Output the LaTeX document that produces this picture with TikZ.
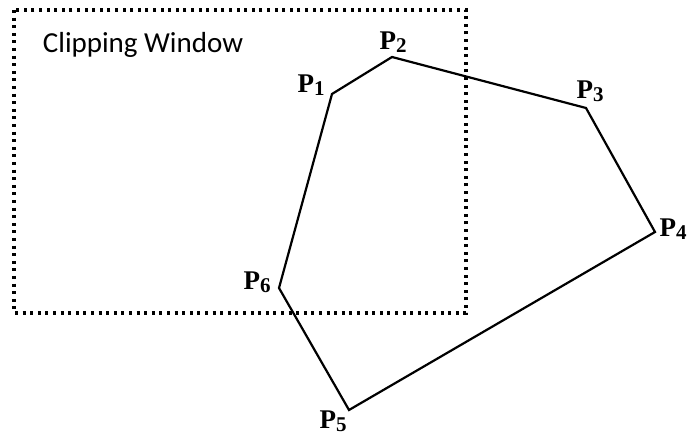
\documentclass[tikz,border=0pt]{standalone}
\usepackage{fontspec}
\setmainfont{Liberation Serif}
\newfontfamily\winfont{Carlito}
\newcommand{\vname}[1]{P\raisebox{-1.6pt}{\fontsize{10.5}{12}\selectfont #1}}

\begin{document}
\begin{tikzpicture}[x=0.5pt, y=-0.5pt,
    edge/.style={line width=1.1pt, line join=miter},
    window/.style={line width=1.6pt, dash pattern=on 1.5pt off 2.3pt},
    vlabel/.style={inner sep=0pt, font=\fontsize{13.5}{15}\selectfont\bfseries}]
    \useasboundingbox (0,0) rectangle (690,437);

    % clipping window
    \coordinate (wtl) at (14,10);
    \coordinate (wbr) at (466,313);
    \draw[window] (wtl) rectangle (wbr);
    \node[inner sep=0pt, font=\winfont\fontsize{14.5}{17}\selectfont] (wintext) at (143,45) {Clipping Window};

    % polygon vertices
    \coordinate (p1) at (332,94);
    \coordinate (p2) at (392,57);
    \coordinate (p3) at (586,108);
    \coordinate (p4) at (655,232);
    \coordinate (p5) at (349,410);
    \coordinate (p6) at (279,288);
    \draw[edge] (p1) -- (p2) -- (p3) -- (p4) -- (p5) -- (p6) -- cycle;

    % vertex labels
    \node[vlabel] (l1) at (311,85) {\vname{1}};
    \node[vlabel] (l2) at (393,42) {\vname{2}};
    \node[vlabel] (l3) at (590,91) {\vname{3}};
    \node[vlabel] (l4) at (673,229) {\vname{4}};
    \node[vlabel] (l5) at (333,421) {\vname{5}};
    \node[vlabel] (l6) at (257,282) {\vname{6}};
\end{tikzpicture}
\end{document}
